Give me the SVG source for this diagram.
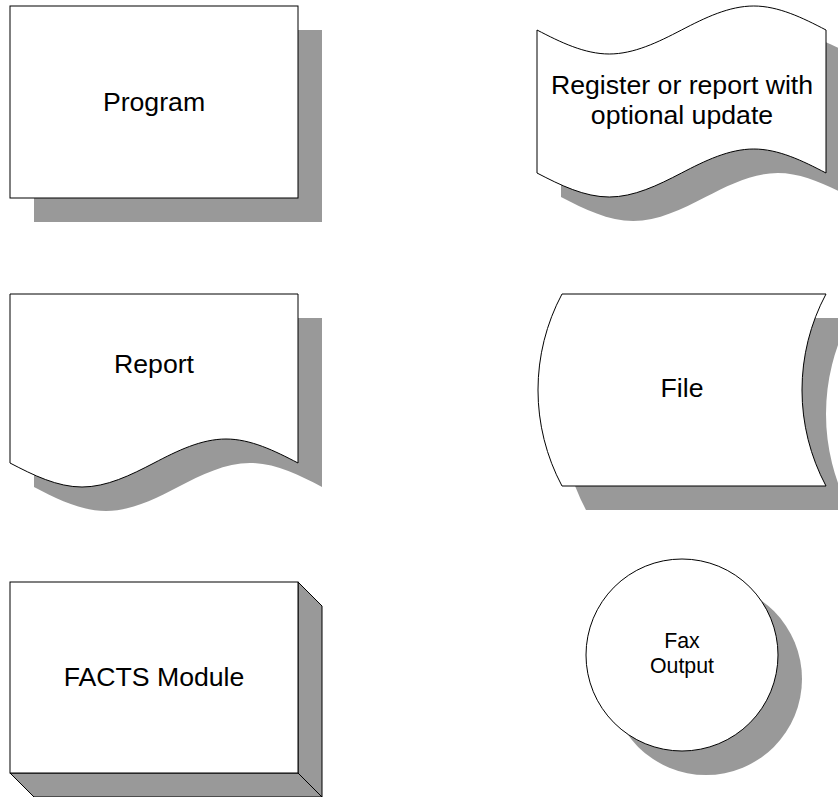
<svg xmlns="http://www.w3.org/2000/svg" xmlns:xlink="http://www.w3.org/1999/xlink" width="838" height="797" viewBox="0 0 838 797">
<style>
.shape{fill:#ffffff;stroke:#000000;stroke-width:1}
.shadow{fill:#999999;stroke:none}
.side{fill:#999999;stroke:#000000;stroke-width:1}
.lbl{font-family:"Liberation Sans",Arial,sans-serif;font-size:26.67px;fill:#000000;text-anchor:middle}
.sm{font-size:21.33px}
</style>
<defs>
<path id="regShape" d="M537,30 C560.56,42.29 584.66,54 609.25,54 C633.84,54 657.94,42.29 681.5,30 C705.06,17.71 729.16,6 753.75,6 C778.34,6 802.44,17.71 826,30 L826,173 C802.44,160.71 778.34,149 753.75,149 C729.16,149 705.06,160.71 681.5,173 C657.94,185.29 633.84,197 609.25,197 C584.66,197 560.56,185.29 537,173 Z"/>
<path id="repShape" d="M10,294 L298,294 L298,463 C274.52,450.71 250.5,439 226,439 C201.5,439 177.48,450.71 154,463 C130.52,475.29 106.5,487 82,487 C57.5,487 33.48,475.29 10,463 Z"/>
<path id="fileShape" d="M562,294 L826,294 A204,204 0 0 0 826,486 L562,486 A204,204 0 0 1 562,294 Z"/>
</defs>
<g id="program">
<rect class="shadow" x="34" y="30" width="288" height="192"/>
<rect class="shape" x="10" y="6" width="288" height="192"/>
<text class="lbl" x="154" y="111">Program</text>
</g>
<g id="register">
<use xlink:href="#regShape" href="#regShape" class="shadow" transform="translate(24,24)"/>
<use xlink:href="#regShape" href="#regShape" class="shape"/>
<text class="lbl" x="682" y="94">Register or report with</text>
<text class="lbl" x="682" y="124">optional update</text>
</g>
<g id="report">
<use xlink:href="#repShape" href="#repShape" class="shadow" transform="translate(24,24)"/>
<use xlink:href="#repShape" href="#repShape" class="shape"/>
<text class="lbl" x="154" y="373">Report</text>
</g>
<g id="file">
<use xlink:href="#fileShape" href="#fileShape" class="shadow" transform="translate(24,24)"/>
<use xlink:href="#fileShape" href="#fileShape" class="shape"/>
<text class="lbl" x="682" y="397">File</text>
</g>
<g id="facts-module">
<polygon class="side" points="298,582 322,606 322,797 298,773"/>
<polygon class="side" points="10,773 298,773 322,797 34,797"/>
<rect class="shape" x="10" y="582" width="288" height="191"/>
<text class="lbl" x="154" y="686">FACTS Module</text>
</g>
<g id="fax-output">
<circle class="shadow" cx="706" cy="679" r="96"/>
<circle class="shape" cx="682" cy="655" r="96"/>
<text class="lbl sm" x="682" y="648">Fax</text>
<text class="lbl sm" x="682" y="673">Output</text>
</g>
<g id="connectors"/>
</svg>
